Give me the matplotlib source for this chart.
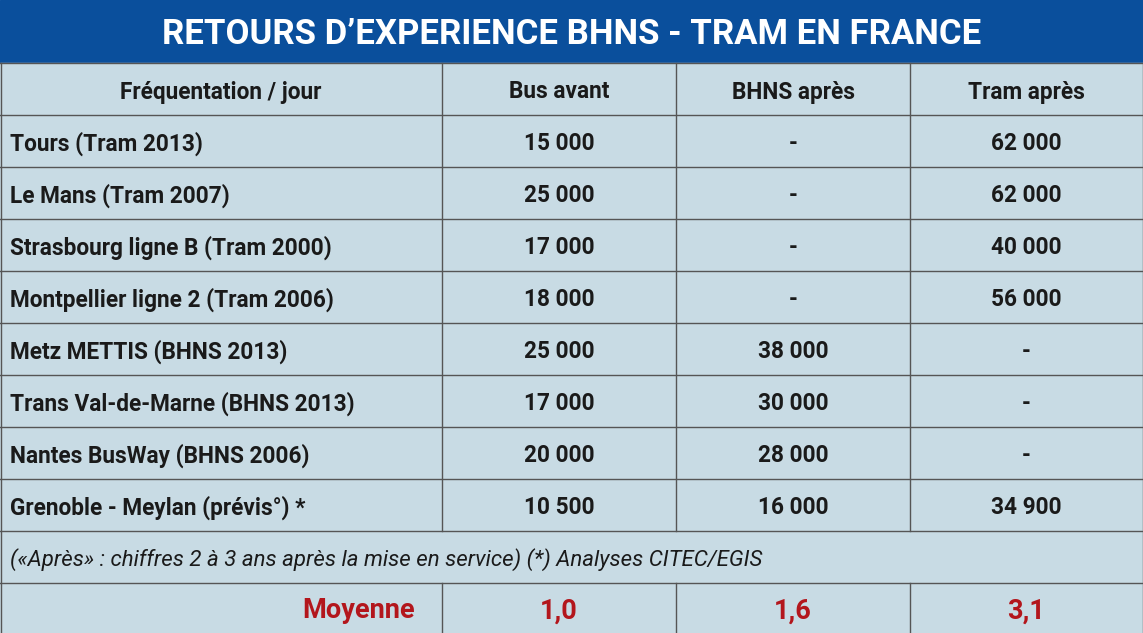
import matplotlib
matplotlib.use("Agg")
import matplotlib.pyplot as plt

title = "RETOURS D’EXPERIENCE BHNS - TRAM EN FRANCE"
headers = ["Fréquentation / jour", "Bus avant", "BHNS après", "Tram après"]
cities = ["Tours (Tram 2013)", "Le Mans (Tram 2007)", "Strasbourg ligne B (Tram 2000)",
          "Montpellier ligne 2 (Tram 2006)", "Metz METTIS (BHNS 2013)",
          "Trans Val-de-Marne (BHNS 2013)", "Nantes BusWay (BHNS 2006)",
          "Grenoble - Meylan (prévis°) *"]
bus_avant = ["15 000", "25 000", "17 000", "18 000", "25 000", "17 000", "20 000", "10 500"]
bhns_apres = ["-", "-", "-", "-", "38 000", "30 000", "28 000", "16 000"]
tram_apres = ["62 000", "62 000", "40 000", "56 000", "-", "-", "-", "34 900"]
note = "(«Après» : chiffres 2 à 3 ans après la mise en service) (*) Analyses CITEC/EGIS"
moyenne_label = "Moyenne"
moyenne = ["1,0", "1,6", "3,1"]

W, H = 1143, 633
fig = plt.figure(figsize=(W/100, H/100), dpi=100)
ax = fig.add_axes([0, 0, 1, 1])
ax.set_xlim(0, W); ax.set_ylim(H, 0); ax.axis("off")
plt.rcParams['font.family'] = ['Roboto', 'DejaVu Sans']

blue = "#0a4f9c"; bg = "#c8dbe4"; line = "#555555"; red = "#b3161c"; txt = "#1a1a1a"
ax.add_patch(plt.Rectangle((0, 0), W, 63, color=blue, zorder=0))
ax.add_patch(plt.Rectangle((0, 63), W, H-63, color=bg, zorder=0))
ax.text(W/2, 34, title, color="white", fontsize=25, fontweight="bold", ha="center", va="center")

colx = [0, 442, 676, 910, W]
centers = [(colx[i]+colx[i+1])/2 for i in range(4)]
rowh = 52
y0 = 63
fs = 16.3
dy = 3
ax.text(centers[0], y0+rowh/2+dy, headers[0], ha="center", va="center", fontsize=fs, fontweight="bold", color=txt)
for j in range(1, 4):
    ax.text(centers[j], y0+rowh/2+dy, headers[j], ha="center", va="center", fontsize=fs, fontweight="bold", color=txt)
for i in range(len(cities)):
    yc = y0 + rowh*(i+1) + rowh/2 + dy
    ax.text(10, yc, cities[i], ha="left", va="center", fontsize=fs, fontweight="bold", color=txt)
    for j, v in enumerate([bus_avant[i], bhns_apres[i], tram_apres[i]]):
        ax.text(centers[j+1], yc, v, ha="center", va="center", fontsize=fs, fontweight="bold", color=txt)
ynote = y0 + rowh*9
ax.text(10, ynote+rowh/2+dy, note, ha="left", va="center", fontsize=16, style="italic", color=txt)
ymoy = ynote + rowh
ym = (ymoy + H)/2 + dy
ax.text(415, ym, moyenne_label, ha="right", va="center", fontsize=19.5, fontweight="bold", color=red)
for j, v in enumerate(moyenne):
    ax.text(centers[j+1], ym, v, ha="center", va="center", fontsize=19.5, fontweight="bold", color=red)

for k in range(11):
    y = y0 + rowh*k
    ax.plot([0, W], [y, y], color=line, lw=1)
for x in colx[1:4]:
    ax.plot([x, x], [y0, ynote], color=line, lw=1)
    ax.plot([x, x], [ymoy, H], color=line, lw=1)
ax.plot([0.5, 0.5], [y0, H], color=line, lw=1)
ax.plot([W-0.5, W-0.5], [y0, H], color=line, lw=1)
fig.savefig("out.png", dpi=100)
